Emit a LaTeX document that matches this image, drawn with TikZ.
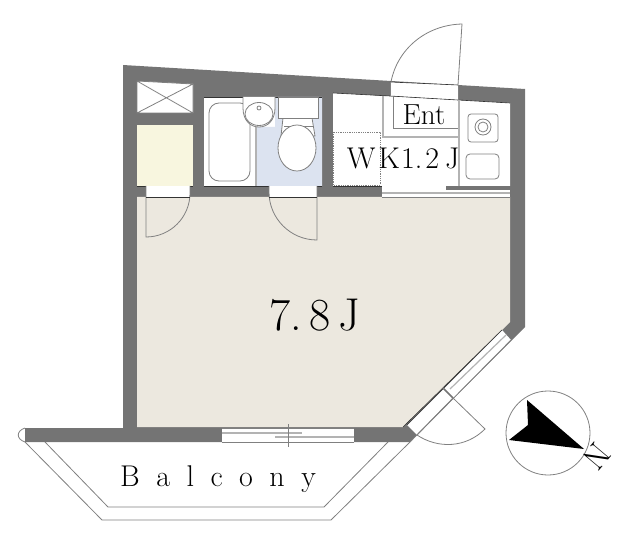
\documentclass[tikz,border=0pt]{standalone}
\usepackage{tikz}
\definecolor{wallgray}{HTML}{747474}
\definecolor{floorbeige}{HTML}{ECE8DF}
\definecolor{closetyellow}{HTML}{F8F6DF}
\definecolor{bathblue}{HTML}{DCE3F0}
\definecolor{linegray}{HTML}{808080}
\begin{document}
\begin{tikzpicture}[x=1pt, y=-1pt]
\tikzstyle{thin_line}=[draw=linegray, line width=0.8pt]
\tikzstyle{soft_line}=[draw=linegray!60, line width=1.2pt]
\tikzstyle{room_line}=[draw=black!80, line width=0.6pt]
\tikzstyle{label_text}=[inner sep=0pt, text=black, anchor=base]
\useasboundingbox (0,0) rectangle (640,540);
%
\begin{scope}
% walls
\fill [wallgray] (123,65) -- (525,89) -- (525,327) -- (410,442) -- (25,442) -- (25,428) -- (123,428) -- cycle;
\fill [floorbeige] (137,197) -- (510,197) -- (510,322) -- (502,330) -- (403,427) -- (137,427) -- cycle;
\draw [room_line] (403,427) -- (502,330);
% closets
\fill [white] (137,81) -- (193,84) -- (193,113) -- (137,113) -- cycle;
\draw [thin_line] (137,81) -- (193,84) -- (193,113) -- (137,113) -- cycle
	(137,81) -- (193,113) (193,84) -- (137,113);
\fill [closetyellow] (137,125) rectangle (193,186);
\draw [room_line] (137,186) -- (193,186);
% bath and toilet
\fill [white] (204,97) rectangle (322,186);
\fill [bathblue] (256,127) -- (256,186) -- (322,186) -- (322,97) -- (275,97) -- (275,127) -- cycle;
\draw [room_line] (204,97) -- (322,97) (204,186) -- (322,186);
\draw [soft_line] (256,120) -- (256,186);
\draw [thin_line, rounded corners=10pt] (209,103) rectangle (250,181);
\draw [thin_line, fill=white] (243,97) -- (243,108) .. controls (243,120) and (250,127) .. (259,127) .. controls (268,127) and (275,120) .. (275,108) -- (275,97);
\draw [thin_line] (259,114) ellipse (14 and 11.5);
\draw [thin_line] (259,108) circle (2);
\draw [thin_line, fill=white] (283,118) -- (281,136) -- (315,136) -- (312,118) -- cycle;
\draw [thin_line] (284,126) -- (313,126);
\draw [thin_line, fill=white] (297,148) ellipse (19 and 23);
\draw [thin_line, fill=white] (278,97) rectangle (318,118);
% kitchen
\fill [white] (333,93) -- (510,103) -- (510,186) -- (333,186) -- cycle;
\draw [room_line] (333,186) -- (510,186);
\draw [room_line] (333,93) -- (390,96) (458,100) -- (510,103);
\fill [white] (390,82) -- (458,85) -- (458,100) -- (390,96) -- cycle;
\draw [room_line] (390,82) -- (458,85) (390,96) -- (458,100);
\draw [thin_line] (390,82) -- (390,96) (458,85) -- (458,100);
\draw [soft_line] (383,96) -- (383,137) -- (459,137);
\draw [thin_line] (393,97) -- (393,128) -- (459,128);
\draw [soft_line] (459,100) -- (459,186);
\draw [thin_line, rounded corners=3pt] (468,114) rectangle (498,142);
\draw [thin_line] (483,127) circle (8);
\draw [thin_line] (483,127) circle (5);
\draw [thin_line, rounded corners=4pt] (466,154) rectangle (499,179);
\draw [thin_line, densely dotted] (333,132) rectangle (380,185);
% doors
\fill [white] (146,186) rectangle (190,197);
\draw [thin_line] (146,186) -- (146,237) arc [start angle=90, end angle=0, radius=44] -- (190,186);
\draw [room_line] (146,197) -- (190,197);
\fill [white] (269,186) rectangle (317,197);
\draw [thin_line] (317,186) -- (317,240) arc [start angle=90, end angle=180, radius=48] -- (269,186);
\draw [room_line] (269,197) -- (317,197);
\draw [thin_line] (458,85) -- (462,24) .. controls (425,25) and (397,50) .. (391,82);
% kitchen window
\fill [white] (382,186) rectangle (510,197);
\fill [wallgray] (446,186) rectangle (510,190);
\draw [soft_line] (382,193) -- (510,193);
\draw [thin_line] (382,197) -- (510,197);
% south window
\fill [white] (222,428) rectangle (354,442);
\draw [soft_line] (222,433) -- (302,433);
\draw [soft_line] (275,437) -- (354,437);
\draw [thin_line] (222,428) -- (354,428) (222,442) -- (354,442);
\draw [thin_line] (288,424) -- (288,447);
% diagonal window and door
\fill [white] (502,330) -- (511,340) -- (417,435) -- (407,425) -- cycle;
\draw [room_line] (407,425) -- (502,330);
\draw [soft_line] (450,389) -- (506,335);
\draw [thin_line] (417,435) -- (511,340);
\draw [wallgray, line width=1.5pt] (443,388) -- (453,398);
\draw [thin_line] (453,398) -- (485,429) .. controls (466,448) and (438,449) .. (417,435);
% balcony
\draw [thin_line] (25,428) .. controls (16,431) and (16,439) .. (25,442) -- (102,520) -- (331,520) -- (410,442) -- (453,398);
\draw [thin_line] (45,442) -- (108,507) -- (324,507) -- (388,442);
% compass
\draw [thin_line] (548,433) circle (42);
\fill [black] (527,400) -- (584,449) -- (509,440) -- (528,425) -- cycle;
% labels
\node [label_text, font=\fontsize{46}{46}\selectfont] (roomlabel) at (315,330) {7.\,8\,J};
\node [label_text, font=\fontsize{30}{30}\selectfont] (kitchenlabel) at (403,169) {W\hspace{3pt}K\hspace{1pt}1.\hspace{3pt}2\hspace{6pt}J};
\node [label_text, font=\fontsize{29}{29}\selectfont] (entlabel) at (424,125) {Ent};
\node [label_text, font=\fontsize{30}{30}\selectfont] (balconylabel) at (218,486) {B\hspace{16.5pt}a\hspace{16.5pt}l\hspace{16.5pt}c\hspace{16.5pt}o\hspace{16.5pt}n\hspace{16.5pt}y};
\node [inner sep=0pt, font=\fontsize{33}{33}\selectfont, rotate=-130] (northlabel) at (597,457) {N};
\end{scope}
%
\end{tikzpicture}
\end{document}
